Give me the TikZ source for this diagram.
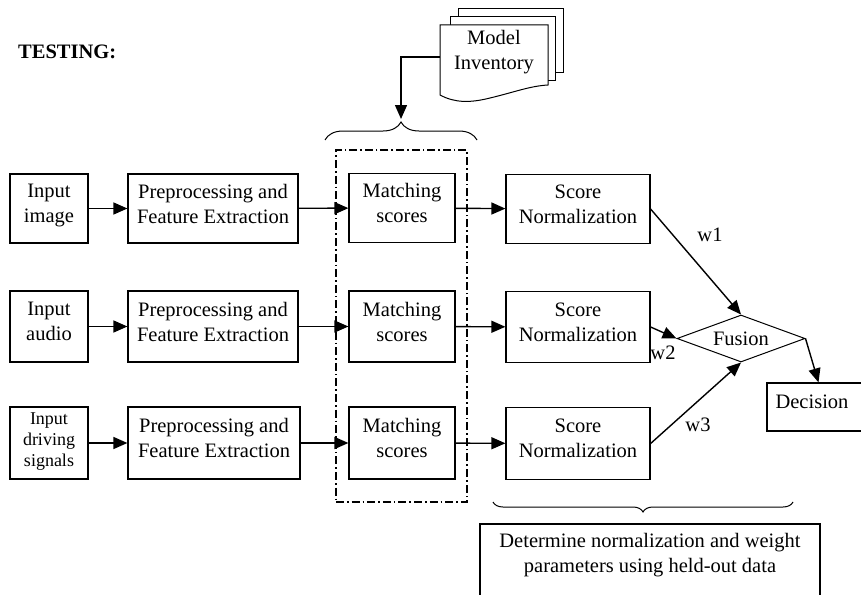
\documentclass[tikz,border=0pt]{standalone}
\usepackage{fontspec}
\setmainfont{Liberation Serif}
\usetikzlibrary{arrows.meta,shapes.geometric,decorations.pathreplacing}
\begin{document}
\begin{tikzpicture}[x=1pt,y=-1pt,
  txt/.style={font=\fontsize{20.5}{25}\selectfont, align=center, inner sep=0pt},
  box/.style={txt, draw, line width=1.2pt, text depth=10pt},
  arr/.style={line width=1.4pt, -{Triangle[length=14pt,width=12pt]}},
  dashdot/.style={line width=1.1pt, dash pattern=on 8pt off 3pt on 1.6pt off 3pt},
  page/.style={draw, fill=white, line width=1pt}]
\useasboundingbox (0,0) rectangle (861,594);
\clip (0,0) rectangle (861,594);

% title
\node[txt, font=\fontsize{20.5}{25}\selectfont\bfseries, anchor=west] (title) at (18,52) {TESTING:};

% model inventory (stacked documents)
\draw[page] (458,9) rectangle (563,72);
\draw[page] (450,17) rectangle (555,80);
\draw[page] (440,25) -- (548,25) -- (548,85)
  .. controls (530,86) and (515,92) .. (490,98)
  .. controls (470,103) and (455,103) .. (440,95) -- cycle;
\node[txt] (inv) at (494,52) {Model\\Inventory};
\coordinate (invL) at (440,57);
\coordinate (brtip) at (401,119);

% braces
\draw[line width=1pt, decorate, decoration={brace, amplitude=18pt}] (325,140) -- (477,140);
\draw[line width=1pt, decorate, decoration={brace, amplitude=10pt}] (793,502) -- (493,502);

% matching group frame
\node[draw, dashdot, minimum width=131pt, minimum height=352pt, inner sep=0pt] (grp) at (401.5,326) {};

% row 1
\node[box, minimum width=78pt, minimum height=69pt] (in1) at (49,208.5) {Input\\image};
\node[box, minimum width=170pt, minimum height=69pt] (pp1) at (213,208.5) {Preprocessing and\\Feature Extraction};
\node[box, minimum width=106pt, minimum height=69pt] (ms1) at (402,208) {Matching\\scores};
\node[box, minimum width=144pt, minimum height=69pt] (sn1) at (578,209) {Score\\Normalization};

% row 2
\node[box, minimum width=78pt, minimum height=71pt] (in2) at (49,326.5) {Input\\audio};
\node[box, minimum width=170pt, minimum height=71pt] (pp2) at (213,326.5) {Preprocessing and\\Feature Extraction};
\node[box, minimum width=106pt, minimum height=71pt] (ms2) at (402,326.5) {Matching\\scores};
\node[box, minimum width=144pt, minimum height=71pt] (sn2) at (578,327) {Score\\Normalization};

% row 3
\node[box, font=\fontsize{18}{21}\selectfont, text depth=6pt, minimum width=78pt, minimum height=72pt] (in3) at (49,443) {Input\\driving\\signals};
\node[box, minimum width=172pt, minimum height=72pt] (pp3) at (214,443) {Preprocessing and\\Feature Extraction};
\node[box, minimum width=106pt, minimum height=72pt] (ms3) at (402,443) {Matching\\scores};
\node[box, minimum width=144pt, minimum height=72pt] (sn3) at (578,443.5) {Score\\Normalization};

% fusion and decision
\node[txt, draw, diamond, aspect=2.7, line width=1pt, minimum width=128pt, minimum height=47pt] (fu) at (741,338.5) {Fusion};
\node[draw, line width=1.2pt, minimum width=103pt, minimum height=48pt, inner sep=0pt] (dec) at (818.5,407) {};
\node[txt] (dect) at (812,402) {Decision};

% parameter estimation box
\node[draw, line width=1.2pt, minimum width=340pt, minimum height=82pt, inner sep=0pt] (par) at (650,565) {};
\node[txt] (part) at (650,555) {Determine normalization and weight\\parameters using held-out data};

% connectors
\draw[arr] (invL) -| (brtip);
\foreach \r in {1,2,3} {
  \draw[arr] (in\r) -- (pp\r);
  \draw[arr] (pp\r) -- (ms\r);
  \draw[arr] (ms\r) -- (sn\r);
}
\draw[arr] (sn1.east) -- (fu.north);
\draw[arr] (sn2.east) -- (fu.west);
\draw[arr] (sn3.east) -- (fu.south);
\draw[arr] (fu.east) -- (dec.north);

% weights
\node[txt] (w1) at (710,235) {w1};
\node[txt] (w2) at (663,353) {w2};
\node[txt] (w3) at (698,425) {w3};
\end{tikzpicture}
\end{document}
